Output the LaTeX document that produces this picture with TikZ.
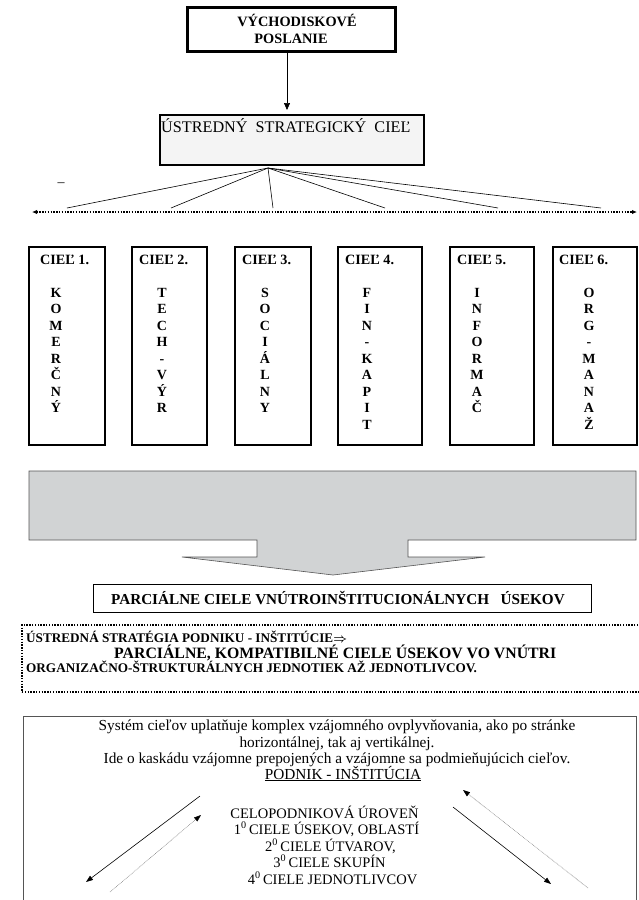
\documentclass[tikz,border=0pt]{standalone}
\usepackage{fontspec}
\setmainfont{Liberation Serif}
\usetikzlibrary{arrows.meta}
\definecolor{arrowgray}{HTML}{D1D3D4}
\definecolor{stratfill}{HTML}{F4F4F4}
\definecolor{linegray}{HTML}{555555}
\begin{document}
\begin{tikzpicture}[x=1pt,y=-1pt,
  thickbox/.style={draw, line width=2.4pt, inner sep=0pt},
  goalbox/.style={thickbox, minimum height=198pt, minimum width=#1},
  goallabel/.style={anchor=base west, inner sep=0pt, font=\bfseries\fontsize{14.2}{16}\selectfont},
  letter/.style={anchor=base, inner sep=0pt, font=\bfseries\fontsize{14}{16}\selectfont},
  fan/.style={line width=0.6pt},
  dotline/.style={line width=1.6pt, dash pattern=on 1.4pt off 1.4pt},
  ptext/.style={anchor=base, inner sep=0pt, font=\fontsize{15.3}{17}\selectfont},
  btext/.style={anchor=base, inner sep=0pt, font=\fontsize{14.5}{16}\selectfont},
  solidarr/.style={line width=0.6pt, -{Triangle[length=7pt,width=5pt]}},
  dotarr/.style={line width=0.5pt, gray, dash pattern=on 0.8pt off 0.8pt, -{Triangle[length=7pt,width=5pt,fill=black,color=black]}}
]
\useasboundingbox (0,0) rectangle (639,900);
\fill[white] (0,0) rectangle (639,900);

% top box
\node[thickbox, line width=3pt, minimum width=208pt, minimum height=44pt, align=center,
      font=\bfseries\fontsize{14.3}{17}\selectfont] (top) at (291,29) {\hspace*{12pt}VÝCHODISKOVÉ\\POSLANIE};

% strategic goal box
\node[thickbox, line width=2pt, fill=stratfill, minimum width=264pt, minimum height=50pt] (strat) at (292,140) {};
\node[anchor=base west, inner sep=0pt, font=\fontsize{16.2}{18}\selectfont] (strattext) at (161,132) {ÚSTREDNÝ\ \ STRATEGICKÝ\ \ CIEĽ};

\draw[line width=0.7pt, -{Triangle[length=7pt,width=6pt]}, shorten >=4pt] ([xshift=-4pt]top.south) -- ([xshift=-5pt]strat.north);

% fan
\coordinate (apex) at (268,168);
\coordinate (f1) at (67,208);
\coordinate (f2) at (171,208);
\coordinate (f3) at (273,208);
\coordinate (f4) at (385,208);
\coordinate (f5) at (498,208);
\coordinate (f6) at (601,208);
\foreach \i in {1,...,6} \draw[fan] (apex) -- (f\i);

\node[inner sep=0pt, font=\fontsize{14}{16}\selectfont] (stray) at (61,185) {–};

% dotted double arrow
\coordinate (dl) at (32,212);
\coordinate (dr) at (637,212);
\draw[dotline, {Latex[length=5pt,width=4.5pt]}-{Latex[length=5pt,width=4.5pt]}] (dl) -- (dr);

% goal boxes
\node[goalbox=76pt] (c1) at (67,346) {};
\node[goalbox=75pt] (c2) at (169.5,346) {};
\node[goalbox=76pt] (c3) at (273,346) {};
\node[goalbox=84pt] (c4) at (380,346) {};
\node[goalbox=84pt] (c5) at (492,346) {};
\node[goalbox=84pt] (c6) at (595,346) {};

\node[goallabel] (g1) at (40,264) {CIEĽ 1.};
\node[goallabel] (g2) at (139,264) {CIEĽ 2.};
\node[goallabel] (g3) at (242,264) {CIEĽ 3.};
\node[goallabel] (g4) at (345,264) {CIEĽ 4.};
\node[goallabel] (g5) at (457,264) {CIEĽ 5.};
\node[goallabel] (g6) at (559,264) {CIEĽ 6.};

\foreach \l [count=\i] in {K,O,M,E,R,Č,N,Ý}
  \node[letter] (la\i) at (56,{297+16.5*(\i-1)}) {\l};
\foreach \l [count=\i] in {T,E,C,H,-,V,Ý,R}
  \node[letter] (lb\i) at (162,{297+16.5*(\i-1)}) {\l};
\foreach \l [count=\i] in {S,O,C,I,Á,L,N,Y}
  \node[letter] (lc\i) at (265,{297+16.5*(\i-1)}) {\l};
\foreach \l [count=\i] in {F,I,N,-,K,A,P,I,T}
  \node[letter] (ld\i) at (367,{297+16.5*(\i-1)}) {\l};
\foreach \l [count=\i] in {I,N,F,O,R,M,A,Č}
  \node[letter] (le\i) at (477,{297+16.5*(\i-1)}) {\l};
\foreach \l [count=\i] in {O,R,G,-,M,A,N,A,Ž}
  \node[letter] (lf\i) at (589,{297+16.5*(\i-1)}) {\l};

% big gray arrow
\draw[fill=arrowgray, draw=linegray, line width=0.6pt]
  (29,471) -- (636,471) -- (636,540) -- (408,540) -- (408,557) -- (485,557)
  -- (333,575) -- (182,557) -- (257,557) -- (257,540) -- (29,540) -- cycle;

% partial goals box
\node[draw, line width=0.7pt, minimum width=498pt, minimum height=28pt, inner sep=0pt,
      font=\bfseries\fontsize{15.2}{18}\selectfont] (partial) at (342,598)
      {PARCIÁLNE CIELE VNÚTROINŠTITUCIONÁLNYCH\ \ \ ÚSEKOV\hspace*{8pt}};

% dotted strategy box
\node[draw, dotline, minimum width=640pt, minimum height=67pt, inner sep=0pt] (strategy) at (342,658.5) {};
\node[anchor=base west, inner sep=0pt, font=\bfseries\fontsize{13.2}{15}\selectfont] (s1) at (26,642) {ÚSTREDNÁ STRATÉGIA PODNIKU - INŠTITÚCIE{\boldmath$\Rightarrow$}};
\node[anchor=base west, inner sep=0pt, font=\bfseries\fontsize{15.8}{18}\selectfont] (s2) at (114,658) {PARCIÁLNE, KOMPATIBILNÉ CIELE ÚSEKOV VO VNÚTRI};
\node[anchor=base west, inner sep=0pt, font=\bfseries\fontsize{13.2}{15}\selectfont] (s3) at (26,672) {ORGANIZAČNO-ŠTRUKTURÁLNYCH JEDNOTIEK AŽ JEDNOTLIVCOV.};

% bottom box
\node[draw=linegray, line width=0.6pt, minimum width=613pt, minimum height=220pt, inner sep=0pt] (system) at (329.5,826) {};

\node[ptext] (b1) at (337,730) {Systém cieľov uplatňuje komplex vzájomného ovplyvňovania, ako po stránke};
\node[ptext] (b2) at (337,747) {horizontálnej, tak aj vertikálnej.};
\node[ptext] (b3) at (337,763) {Ide o kaskádu vzájomne prepojených a vzájomne sa podmieňujúcich cieľov.};
\node[ptext] (b4) at (343,779) {\underline{PODNIK - INŠTITÚCIA}};
\node[btext] (b5) at (324.5,818) {CELOPODNIKOVÁ ÚROVEŇ};
\node[btext] (b6) at (326.5,834) {1\textsuperscript{0}\,CIELE ÚSEKOV, OBLASTÍ};
\node[btext] (b7) at (330.5,851) {2\textsuperscript{0}\,CIELE ÚTVAROV,};
\node[btext] (b8) at (329.5,867) {3\textsuperscript{0}\,CIELE SKUPÍN};
\node[btext] (b9) at (332.5,884) {4\textsuperscript{0}\,CIELE JEDNOTLIVCOV};

% bottom arrows
\coordinate (la) at (200,796);
\coordinate (lb) at (86,882);
\coordinate (lc) at (110,892);
\coordinate (ld) at (201,815);
\coordinate (ra) at (588,888);
\coordinate (rb) at (463,790);
\coordinate (rc) at (453,807);
\coordinate (rd) at (551,884);
\draw[solidarr] (la) -- (lb);
\draw[dotarr] (lc) -- (ld);
\draw[dotarr] (ra) -- (rb);
\draw[solidarr] (rc) -- (rd);
\end{tikzpicture}
\end{document}
